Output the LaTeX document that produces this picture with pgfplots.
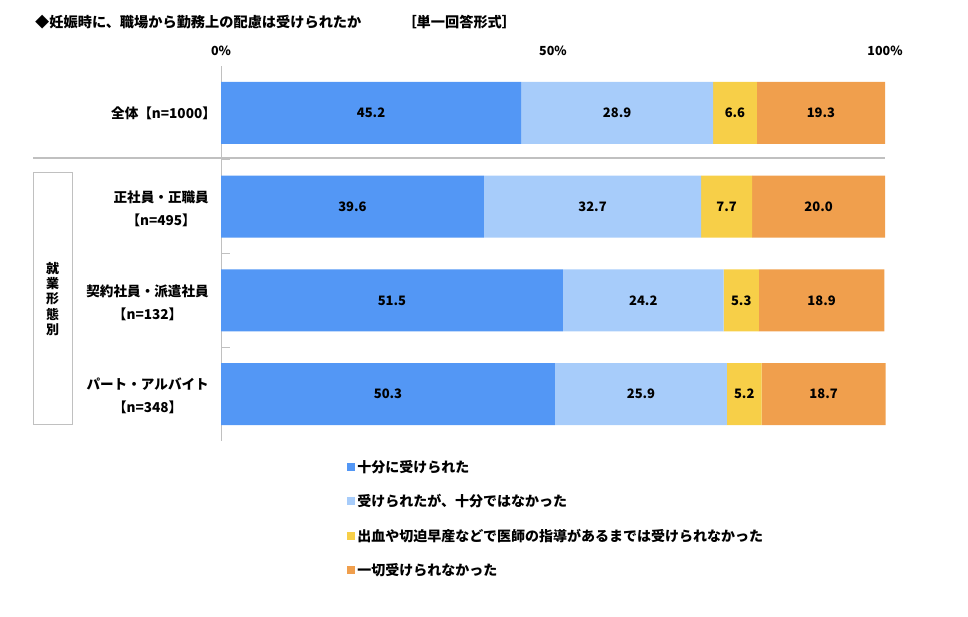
\documentclass[border=0pt]{standalone}
\usepackage{fontspec}
\setmainfont{Noto Sans CJK JP}
\usepackage{pgfplots}
\usepackage{pgfplotstable}
\pgfplotsset{compat=1.18}
\definecolor{c1}{RGB}{83,151,245}
\definecolor{c2}{RGB}{167,204,250}
\definecolor{c3}{RGB}{247,207,72}
\definecolor{c4}{RGB}{240,159,77}
\definecolor{gl}{RGB}{192,192,192}

\pgfplotstableread{
cat a b c d
0 45.2 28.9 6.6 19.3
1 39.6 32.7 7.7 20.0
2 51.5 24.2 5.3 18.9
3 50.3 25.9 5.2 18.7
}\data

% label positions: middle of each segment
\pgfplotstableread{
x y l
22.60 0 45.2
59.65 0 28.9
77.40 0 6.6
90.35 0 19.3
19.80 1 39.6
55.95 1 32.7
76.15 1 7.7
90.00 1 20.0
25.75 2 51.5
63.60 2 24.2
78.35 2 5.3
90.45 2 18.9
25.15 3 50.3
63.25 3 25.9
78.80 3 5.2
90.75 3 18.7
}\labels

\pgfplotsset{base/.style={
  at={(221pt,-441pt)}, anchor=south west,
  width=664pt, height=375pt, scale only axis,
  xmin=0, xmax=100, ymin=-0.5, ymax=3.5, y dir=reverse}}

\begin{document}
\begin{tikzpicture}[font=\bfseries\fontsize{13.6}{16}\selectfont]
\useasboundingbox (0pt,0pt) rectangle (968pt,-616pt);
\node[anchor=west,inner sep=0pt,font=\bfseries\fontsize{14.2}{16}\selectfont] at (35pt,-22pt) {◆妊娠時に、職場から勤務上の配慮は受けられたか\hspace{2.9em}［単一回答形式］};
\draw[gl, line width=2pt] (33pt,-158pt) -- (885pt,-158pt);
\draw[gl, line width=0.9pt] (33pt,-172pt) rectangle (72pt,-424pt);
\node[align=center, inner sep=0pt, font=\bfseries\fontsize{13}{15.2}\selectfont] at (52.5pt,-299pt) {就\\業\\形\\態\\別};
\begin{axis}[base,
  xbar stacked, bar width=0.66,
  axis x line*=top, axis y line*=left,
  x axis line style={draw=none},
  y axis line style={draw=gl, line width=1pt},
  xtick={0,50,100}, xticklabels={0\%,50\%,100\%},
  xtick style={draw=none},
  xticklabel style={font=\bfseries\fontsize{12.5}{14}\selectfont, yshift=7pt},
  ytick={0.5,1.5,2.5}, yticklabels={},
  ytick style={draw=gl, line width=1pt},
  major tick length=9pt, tick align=inside,
  clip=false,
  legend style={at={(0.19,-0.045)}, anchor=north west, draw=none, fill=none, inner sep=0pt, row sep=16.8pt, font=\bfseries\fontsize{14}{16}\selectfont},
  legend cell align=left,
  legend image code/.code={\fill[#1] (0pt,-4pt) rectangle (8pt,4pt);},
]
\addplot[fill=c1, draw=none] table[x=a, y=cat]{\data};
\addplot[fill=c2, draw=none] table[x=b, y=cat]{\data};
\addplot[fill=c3, draw=none] table[x=c, y=cat]{\data};
\addplot[fill=c4, draw=none] table[x=d, y=cat]{\data};
\legend{十分に受けられた, 受けられたが、十分ではなかった, 出血や切迫早産などで医師の指導があるまでは受けられなかった, 一切受けられなかった}
\node[anchor=east, align=center, inner sep=0pt] at (axis cs:0,0) [xshift=-11pt] {全体【n=1000】\hspace{-0.45em}};
\node[anchor=east, align=center, inner sep=0pt] at (axis cs:0,1) [xshift=-12pt, yshift=-2pt] {正社員・正職員\\[7pt]【n=495】};
\node[anchor=east, align=center, inner sep=0pt] at (axis cs:0,2) [xshift=-12pt, yshift=-2pt] {契約社員・派遣社員\\[7pt]【n=132】};
\node[anchor=east, align=center, inner sep=0pt] at (axis cs:0,3) [xshift=-12pt, yshift=-2pt] {パート・アルバイト\\[7pt]【n=348】};
\end{axis}
\begin{axis}[base, hide axis, clip=false]
\addplot[only marks, mark=none, point meta=explicit symbolic,
  nodes near coords={\pgfplotspointmeta},
  every node near coord/.style={anchor=center, inner sep=0pt, text=black, font=\bfseries\fontsize{13}{14}\selectfont}]
  table[x=x, y=y, meta=l]{\labels};
\end{axis}
\end{tikzpicture}
\end{document}
